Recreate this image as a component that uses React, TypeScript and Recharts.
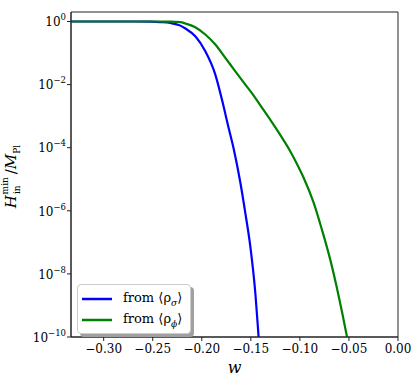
import { LineChart, Line, XAxis, YAxis, Legend, ReferenceArea } from "recharts"

// w values and H_in^min / M_Pl
const blueW = [-0.3333, -0.3, -0.27, -0.2524, -0.2422, -0.232, -0.2218, -0.2167, -0.2066, -0.1964, -0.1862, -0.1794, -0.1726, -0.1675, -0.1607, -0.1556, -0.1505, -0.1454, -0.1421, -0.1397]
const blueH = [1, 1, 1, 0.99, 0.96, 0.9, 0.74, 0.6, 0.34, 0.114, 0.0207, 3.3e-3, 4.2e-4, 9.3e-5, 7.9e-6, 8.45e-7, 7.36e-8, 2.44e-9, 1.02e-10, 1e-11]

const greenW = [-0.3333, -0.3, -0.25, -0.2319, -0.2218, -0.2167, -0.2066, -0.1964, -0.1862, -0.176, -0.1658, -0.1556, -0.148, -0.1403, -0.1301, -0.1199, -0.1097, -0.1013, -0.0962, -0.086, -0.0775, -0.069, -0.0622, -0.0571, -0.052, -0.0455]
const greenH = [1, 1, 1, 0.995, 0.955, 0.865, 0.66, 0.386, 0.186, 0.0703, 0.0264, 0.01, 4.9e-3, 2.19e-3, 7.6e-4, 2.5e-4, 7.6e-5, 2.4e-5, 1.12e-5, 1.82e-6, 2.5e-7, 2.78e-8, 3.5e-9, 6.3e-10, 1.02e-10, 1e-11]

const xTicks = [-0.3, -0.25, -0.2, -0.15, -0.1, -0.05, 0]
const yExponents = [0, -2, -4, -6, -8, -10]

const blueData = blueW.map((w, i) => ({ w, h: blueH[i] }))
const greenData = greenW.map((w, i) => ({ w, h: greenH[i] }))

const FONT = "DejaVu Serif"
const minus = (s: string) => s.replace("-", "\u2212")

function YTick({ x, y, payload }: any) {
  const exp = Math.round(Math.log10(payload.value))
  return (
    <text x={x} y={y} textAnchor="end" dy="0.4em" fill="#000" fontSize={12} style={{ fontFamily: FONT }}>
      <tspan>10</tspan>
      <tspan dy={-6} fontSize={8.5}>{minus(String(exp))}</tspan>
    </text>
  )
}

function YLabel({ viewBox }: any) {
  const cx = viewBox.x + 16
  const cy = viewBox.y + viewBox.height / 2 + 2
  return (
    <text x={cx} y={cy} transform={`rotate(-90, ${cx}, ${cy})`} textAnchor="middle" fill="#000" fontSize={15} style={{ fontFamily: FONT }}>
      <tspan fontStyle="italic">H</tspan>
      <tspan fontSize={9} dx={1} dy={4}>in</tspan>
      <tspan fontSize={9} dx={-9} dy={-12}>min</tspan>
      <tspan dy={8} dx={3}>/</tspan>
      <tspan fontStyle="italic">M</tspan>
      <tspan fontSize={9} dy={4}>Pl</tspan>
    </text>
  )
}

function XLabel({ viewBox }: any) {
  return (
    <text x={viewBox.x + viewBox.width / 2} y={viewBox.y + 36} textAnchor="middle" fill="#000" fontSize={16} fontStyle="italic" style={{ fontFamily: FONT }}>
      w
    </text>
  )
}

const legendItems = [
  { color: "#0000ff", sub: "σ" },
  { color: "#008000", sub: "ϕ" },
]

function LegendBox() {
  return (
    <div
      style={{
        border: "1px solid #cccccc",
        borderRadius: 4,
        background: "#fff",
        boxShadow: "3px 3px 0 #a0a0a0",
        padding: "3px 8px 3px 4px",
        fontFamily: FONT,
        fontSize: 13,
      }}
    >
      {legendItems.map((item) => (
        <div key={item.sub} style={{ display: "flex", alignItems: "center", height: 21 }}>
          <svg width={30} height={4} style={{ marginRight: 11 }}>
            <line x1={0} y1={2} x2={30} y2={2} stroke={item.color} strokeWidth={2.5} />
          </svg>
          <span>
            from ⟨ρ<sub style={{ fontSize: 9, fontStyle: "italic" }}>{item.sub}</sub>⟩
          </span>
        </div>
      ))}
    </div>
  )
}

export default function App() {
  return (
    <div style={{ position: "absolute", left: 0, top: 0, width: 418, height: 385, background: "#fff", fontFamily: FONT }}>
      <LineChart width={418} height={385} margin={{ top: 12, right: 20, left: 0, bottom: 0 }}>
        <XAxis
          type="number"
          dataKey="w"
          domain={[-0.3333, 0]}
          ticks={xTicks}
          allowDataOverflow
          height={48}
          tickSize={4}
          tickMargin={3}
          stroke="#222"
          tick={{ fill: "#000", fontSize: 12, style: { fontFamily: FONT } }}
          tickFormatter={(v: number) => minus(v.toFixed(2))}
          label={<XLabel />}
        />
        <YAxis
          scale="log"
          domain={[1e-10, 2]}
          ticks={yExponents.map((e) => Math.pow(10, e))}
          allowDataOverflow
          width={71}
          tickSize={4}
          tickMargin={1}
          stroke="#222"
          tick={<YTick />}
          label={<YLabel />}
        />
        <ReferenceArea x1={-0.3333} x2={0} y1={1e-10} y2={2} fill="none" stroke="#222" ifOverflow="visible" />
        <Line data={blueData} dataKey="h" type="monotone" stroke="#0000ff" strokeWidth={2.2} dot={false} isAnimationActive={false} name="blue" />
        <Line data={greenData} dataKey="h" type="monotone" stroke="#008000" strokeWidth={2.2} dot={false} isAnimationActive={false} name="green" />
        <Legend
          layout="vertical"
          align="center"
          verticalAlign="middle"
          content={<LegendBox />}
          wrapperStyle={{ left: 77, top: 284, width: "auto" }}
        />
      </LineChart>
    </div>
  )
}
